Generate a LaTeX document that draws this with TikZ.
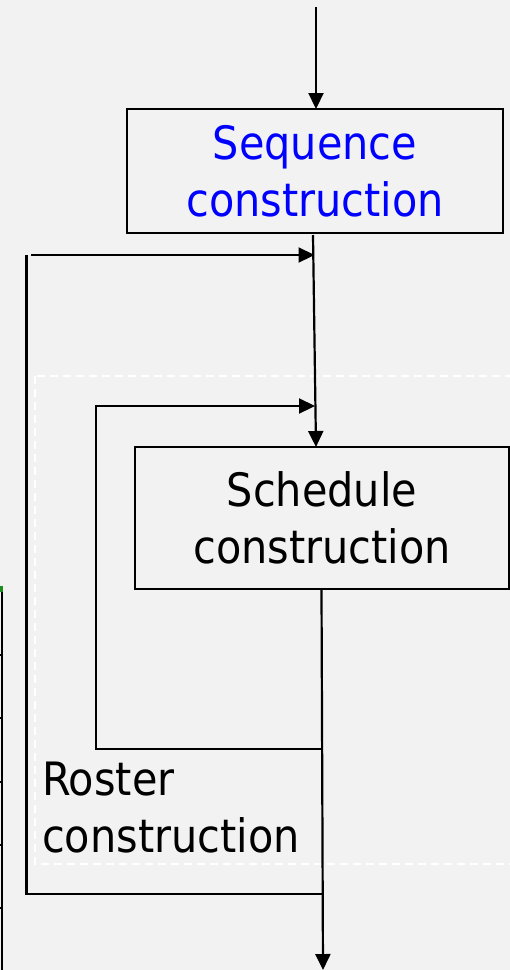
\documentclass[tikz,border=0pt]{standalone}
\usepackage{fontspec}
\setmainfont{DejaVu Sans Condensed}
\usetikzlibrary{arrows.meta}
\definecolor{bg}{HTML}{F2F2F2}
\definecolor{seqblue}{HTML}{0000FF}
\definecolor{edgegreen}{HTML}{1E8C1E}
\begin{document}
\begin{tikzpicture}[x=1pt,y=-1pt,
  every node/.style={font=\fontsize{46}{57}\selectfont},
  procbox/.style={draw=black, line width=2pt, fill=bg, align=center, inner sep=0pt, outer sep=0pt},
  arr/.style={line width=2.2pt, -{Triangle[length=16pt,width=15pt]}},
  loopline/.style={line width=2.2pt},
  dashbox/.style={draw=white, line width=1.5pt, dash pattern=on 8pt off 5pt}
]
\fill[bg] (0,0) rectangle (510,970);
\useasboundingbox (0,0) rectangle (510,970);

% dashed white region
\draw[dashbox] (35,376) rectangle (514,864);

% left edge fragment
\draw[line width=2pt] (1.5,588) -- (1.5,972);
\foreach \yy in {655,718,782,845,908} \draw[line width=1.2pt] (0,\yy) -- (3,\yy);
\fill[edgegreen] (0,586) rectangle (3,592);

% boxes
\node[procbox, minimum width=376pt, minimum height=124pt, text=seqblue] (seq) at (315,171) {Sequence\\construction};
\node[procbox, minimum width=374pt, minimum height=142pt] (sched) at (322,518) {Schedule\\construction};

% label
\node[anchor=west, align=left, inner sep=0pt] (roster) at (42,808) {Roster\\construction};

% coordinates
\coordinate (in) at (316,7);
\coordinate (seqout) at (313,235);
\coordinate (schedin) at (316,447);
\coordinate (schedout) at (321.5,590);
\coordinate (out) at (323,970);
\coordinate (j1) at (323,894);
\coordinate (j2) at (322.5,749);
\coordinate (o1) at (26.5,894);
\coordinate (o2) at (26.5,255);
\coordinate (o3) at (31,255);
\coordinate (o4) at (314.5,255);
\coordinate (i1) at (96,749);
\coordinate (i2) at (96,406);
\coordinate (i3) at (315,406);

% connectors
\draw[arr] (in) -- (in |- seq.north);
\draw[arr] (seqout) -- (schedin);
\draw[arr] (schedout) -- (out);
\draw[loopline] (j1) -- (o1) -- (o2);
\draw[arr] (o3) -- (o4);
\draw[arr] (j2) -- (i1) -- (i2) -- (i3);
\end{tikzpicture}
\end{document}
